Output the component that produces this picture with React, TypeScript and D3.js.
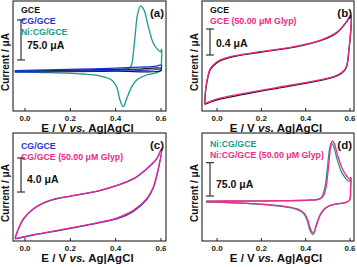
import React from "react";
import * as d3 from "d3";

type Pt = [number, number];

const xTicks = [0.0, 0.2, 0.4, 0.6];

// Panel (a) — current in µA vs E in V
const aGCE: Pt[] = [[-0.045, 0.9], [0.1, 1.6], [0.3, 2.8], [0.5, 4.4], [0.6, 5.9], [0.6, 1.6], [0.4, 0.6], [0.2, 0.0], [-0.045, -0.3]];
const aCG: Pt[] = [[-0.045, 1.6], [0.1, 3.0], [0.3, 5.0], [0.5, 8.0], [0.58, 10.0], [0.6, 12.2], [0.6, 5.9], [0.4, 2.5], [0.2, 0.5], [-0.045, -0.9]];
const aNi: Pt[] = [
  [-0.045, 0.9], [0.1, 1.5], [0.3, 2.8], [0.42, 4.2], [0.46, 6], [0.47, 12], [0.478, 35], [0.487, 72], [0.496, 106], [0.51, 123],
  [0.525, 115], [0.544, 84], [0.566, 53], [0.588, 40], [0.598, 37], [0.603, 42], [0.602, 20], [0.6, 3],
  [0.581, -2.2], [0.537, -6.6], [0.493, -15.9], [0.471, -28.4], [0.449, -50.3], [0.434, -65.9], [0.419, -53.4], [0.404, -28.4],
  [0.382, -15.9], [0.331, -8.4], [0.257, -4.7], [0.11, -2.2], [0.0, -1.3], [-0.045, -0.6],
];

// Panel (b)
const bPink: Pt[] = [
  [-0.056, -0.68], [-0.052, -0.47], [-0.045, -0.31], [-0.03, -0.13], [0.0, -0.026], [0.06, 0.052], [0.196, 0.13], [0.347, 0.208],
  [0.467, 0.31], [0.543, 0.44], [0.588, 0.62], [0.603, 0.70], [0.595, 0.156], [0.58, -0.13], [0.543, -0.234], [0.422, -0.337],
  [0.271, -0.426], [0.121, -0.52], [0.0, -0.607], [-0.056, -0.68],
];
const bBlack: Pt[] = [
  [-0.056, -0.69], [-0.052, -0.49], [-0.045, -0.33], [-0.03, -0.145], [0.0, -0.04], [0.06, 0.04], [0.196, 0.12], [0.347, 0.2],
  [0.467, 0.3], [0.543, 0.43], [0.588, 0.61], [0.603, 0.69], [0.595, 0.15], [0.58, -0.14], [0.543, -0.245], [0.422, -0.35],
  [0.271, -0.44], [0.121, -0.535], [0.0, -0.62], [-0.056, -0.69],
];

// Panel (c)
const cPink: Pt[] = [
  [-0.044, -5.41], [-0.029, -4.31], [-0.007, -3.14], [0.037, -1.96], [0.11, -0.98], [0.199, -0.47], [0.331, 0.2], [0.404, 0.78],
  [0.478, 1.57], [0.537, 2.75], [0.581, 3.92], [0.603, 5.1], [0.588, 2.75], [0.566, 0.59], [0.537, -0.78], [0.478, -2.16],
  [0.404, -3.06], [0.331, -3.53], [0.184, -4.31], [0.037, -5.02], [-0.044, -5.49],
];
const cBlue: Pt[] = [
  [-0.044, -5.45], [-0.029, -4.35], [-0.007, -3.18], [0.037, -2.0], [0.11, -1.02], [0.199, -0.5], [0.331, 0.17], [0.404, 0.75],
  [0.478, 1.54], [0.537, 2.72], [0.581, 3.9], [0.603, 5.08], [0.588, 2.7], [0.566, 0.5], [0.537, -0.9], [0.478, -2.28],
  [0.404, -3.16], [0.331, -3.6], [0.184, -4.36], [0.037, -5.06], [-0.044, -5.52],
];

// Panel (d)
const dTeal: Pt[] = [
  [-0.05, 0], [0.1, 0.5], [0.3, 1], [0.42, 2.5], [0.46, 5], [0.475, 12], [0.488, 35], [0.498, 75], [0.507, 115], [0.515, 131],
  [0.525, 125], [0.54, 98], [0.56, 68], [0.58, 52], [0.595, 45], [0.603, 50], [0.602, 30], [0.598, 3],
  [0.58, -3], [0.54, -6], [0.51, -10], [0.485, -18], [0.465, -32], [0.448, -55], [0.433, -75], [0.42, -66], [0.408, -45],
  [0.392, -28], [0.36, -18], [0.3, -12], [0.2, -7], [0.1, -4], [0.0, -2], [-0.05, -1.5],
];
const dPink: Pt[] = [
  [-0.05, 0.5], [0.1, 1], [0.3, 1.5], [0.42, 3], [0.465, 5.5], [0.48, 12], [0.493, 35], [0.503, 78], [0.512, 120], [0.52, 136],
  [0.53, 129], [0.545, 102], [0.565, 74], [0.585, 57], [0.597, 50], [0.604, 54], [0.603, 32], [0.599, 3],
  [0.58, -2.5], [0.54, -5.5], [0.51, -9], [0.486, -16], [0.466, -29], [0.449, -51], [0.435, -71], [0.422, -63], [0.41, -43],
  [0.394, -27], [0.362, -17], [0.3, -11], [0.2, -6.5], [0.1, -3.5], [0.0, -1.5], [-0.05, -1],
];

const BLACK = "#1a1a1a";
const BLUE = "#1f33d6";
const TEAL = "#1b9a8c";
const PINK = "#f0288a";
const FONT = "'Liberation Sans', Arial, sans-serif";

interface Series { data: Pt[]; color: string; }
interface LegendItem { text: string; color: string; }

interface PanelProps {
  x0: number; x1: number; y0: number; y1: number;
  xDomain: [number, number]; yDomain: [number, number];
  series: Series[]; legend: LegendItem[]; tag: string;
  bar: [number, number]; barLabel: string; legendDy: number; labelDy: number;
}

const Panel: React.FC<PanelProps> = (p) => {
  const xs = d3.scaleLinear().domain(p.xDomain).range([p.x0, p.x1]);
  const ys = d3.scaleLinear().domain(p.yDomain).range([p.y1, p.y0]);
  const line = d3.line<Pt>().x((d) => xs(d[0])).y((d) => ys(d[1])).curve(d3.curveCatmullRom.alpha(0.5));
  const barX = p.x0 + 8;
  const by0 = ys(p.bar[0]);
  const by1 = ys(p.bar[1]);
  const midY = (p.y0 + p.y1) / 2;
  return (
    <g>
      <defs>
        <clipPath id={`clip-${p.tag}`}>
          <rect x={p.x0} y={p.y0} width={p.x1 - p.x0} height={p.y1 - p.y0} />
        </clipPath>
      </defs>
      <g clipPath={`url(#clip-${p.tag})`}>
        {p.series.map((s, i) => (
          <path key={i} d={line(s.data) || ""} fill="none" stroke={s.color} strokeWidth={1.3} strokeLinejoin="round" />
        ))}
      </g>
      <rect x={p.x0} y={p.y0} width={p.x1 - p.x0} height={p.y1 - p.y0} fill="none" stroke="#222" strokeWidth={1.1} />
      {xTicks.map((t) => (
        <g key={t}>
          <line x1={xs(t)} x2={xs(t)} y1={p.y1} y2={p.y1 - 3} stroke="#222" strokeWidth={1} />
          <text x={xs(t)} y={p.y1 + 9.5} textAnchor="middle" fontSize={8} fontWeight="bold" fontFamily={FONT} fill="#222">
            {t.toFixed(1)}
          </text>
        </g>
      ))}
      <text x={(p.x0 + p.x1) / 2 - 2} y={p.y1 + 21} textAnchor="middle" fontSize={11.5} fontWeight="bold" fontFamily={FONT} fill="#111">
        E / V <tspan fontStyle="italic">vs.</tspan> Ag|AgCl
      </text>
      <text transform={`translate(${p.x0 - 4},${midY + 6}) rotate(-90)`} textAnchor="middle" fontSize={10} fontWeight="bold" fontFamily={FONT} fill="#111">
        Current / μA
      </text>
      {p.legend.map((l, i) => (
        <text key={i} x={p.x0 + 8} y={p.y0 + p.legendDy + i * 11} fontSize={8.8} fontWeight="bold" fontFamily={FONT} fill={l.color}>
          {l.text}
        </text>
      ))}
      <text x={p.x1 - 2} y={p.y0 + 16} textAnchor="end" fontSize={11.5} fontWeight="bold" fontFamily={FONT} fill="#111">
        ({p.tag})
      </text>
      <line x1={barX} x2={barX} y1={by0} y2={by1} stroke="#333" strokeWidth={1.2} />
      <line x1={barX - 4} x2={barX + 4} y1={by0} y2={by0} stroke="#333" strokeWidth={1.2} />
      <line x1={barX - 4} x2={barX + 4} y1={by1} y2={by1} stroke="#333" strokeWidth={1.2} />
      <text x={barX + 6} y={(by0 + by1) / 2 + 4 + p.labelDy} fontSize={10.5} fontWeight="bold" fontFamily={FONT} fill="#111">
        {p.barLabel}
      </text>
    </g>
  );
};

export default function App() {
  return (
    <svg width={357} height={267} style={{ display: "block", position: "absolute", left: 0, top: 0, background: "#fff" }}>
      <Panel x0={13} x1={166} y0={1} y1={111} xDomain={[-0.053, 0.622]} yDomain={[-74, 132]} tag="a"
        series={[{ data: aNi, color: TEAL }, { data: aGCE, color: BLACK }, { data: aCG, color: BLUE }]}
        legend={[{ text: "GCE", color: "#111" }, { text: "CG/GCE", color: BLUE }, { text: "Ni:CG/GCE", color: TEAL }]}
        bar={[21.6, 96.6]} barLabel="75.0 μA" legendDy={11.5} labelDy={5.5} />
      <Panel x0={202} x1={354} y0={1} y1={111} xDomain={[-0.068, 0.618]} yDomain={[-0.794, 0.919]} tag="b"
        series={[{ data: bBlack, color: BLACK }, { data: bPink, color: PINK }]}
        legend={[{ text: "GCE", color: "#111" }, { text: "GCE (50.00 μM Glyp)", color: PINK }]}
        bar={[0.078, 0.483]} barLabel="0.4 μA" legendDy={11.5} labelDy={1} />
      <Panel x0={13} x1={166} y0={133} y1={241} xDomain={[-0.053, 0.622]} yDomain={[-5.76, 6.94]} tag="c"
        series={[{ data: cBlue, color: BLUE }, { data: cPink, color: PINK }]}
        legend={[{ text: "CG/GCE", color: BLUE }, { text: "CG/GCE (50.00 μM Glyp)", color: PINK }]}
        bar={[0, 4.0]} barLabel="4.0 μA" legendDy={16} labelDy={4} />
      <Panel x0={202} x1={354} y0={133} y1={241} xDomain={[-0.068, 0.618]} yDomain={[-89.25, 153.75]} tag="d"
        series={[{ data: dTeal, color: TEAL }, { data: dPink, color: PINK }]}
        legend={[{ text: "Ni:CG/GCE", color: TEAL }, { text: "Ni:CG/GCE (50.00 μM Glyp)", color: PINK }]}
        bar={[12, 87]} barLabel="75.0 μA" legendDy={14} labelDy={5} />
    </svg>
  );
}
